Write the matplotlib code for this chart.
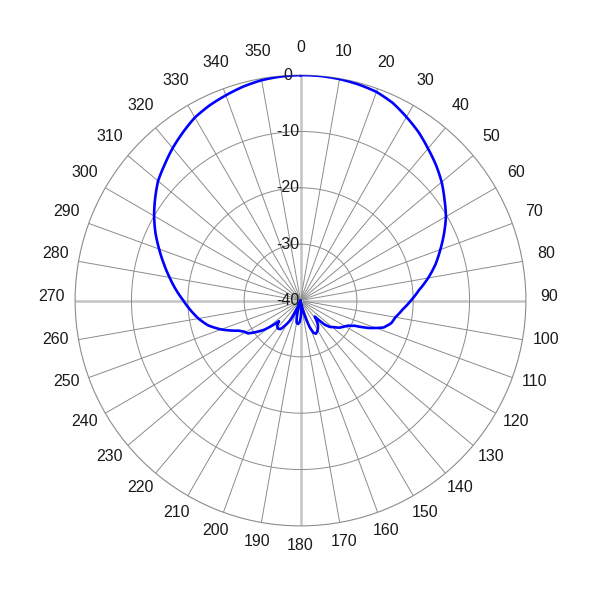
import numpy as np
import matplotlib
matplotlib.use("Agg")
import matplotlib.pyplot as plt
from matplotlib.transforms import offset_copy

plt.rcParams['font.family'] = ['Liberation Sans', 'DejaVu Sans']

angles_deg = [0, 5, 10, 15, 20, 25, 30, 35, 40, 45, 50, 55, 60, 65, 70, 75, 80, 85, 90,
              95, 100, 104, 108, 112, 115, 118, 121, 125, 129, 132, 135, 137, 138.5, 141,
              145, 150, 155, 158, 161, 164, 167, 170, 174, 178, 182, 186, 190, 194, 198,
              201, 204, 207, 210, 215, 219, 223, 226, 228, 231, 235, 238, 241, 244, 247,
              250, 255, 260, 265, 270, 275, 280, 285, 290, 295, 300, 305, 310, 315, 320,
              325, 330, 335, 340, 345, 350, 355, 360]
gain_db = [0.0, 0.0, -0.1, -0.3, -0.6, -1.3, -2.4, -3.5, -4.8, -6.0, -7.3, -8.8, -10.2,
           -11.9, -13.6, -15.2, -17.0, -18.9, -20.4, -21.8, -22.9, -23.4, -24.5, -27.0,
           -29.4, -30.5, -31.0, -31.6, -32.5, -33.0, -34.0, -35.4, -36.2, -35.5, -34.6,
           -33.9, -33.5, -33.8, -35.0, -37.0, -39.0, -40.0, -39.5, -37.5, -36.2, -35.8,
           -36.0, -37.5, -39.5, -40.0, -38.5, -36.2, -35.3, -33.8, -33.6, -33.9, -34.7,
           -33.6, -31.8, -30.2, -29.0, -28.6, -27.8, -26.4, -25.0, -23.0, -21.6, -20.4,
           -19.2, -17.8, -16.4, -14.9, -13.3, -11.6, -10.0, -8.5, -7.0, -5.9, -4.7,
           -3.6, -2.5, -1.8, -1.25, -0.7, -0.3, -0.1, 0.0]

angle_ticks = list(range(0, 360, 10))
radial_ticks = [-40, -30, -20, -10, 0]

fig = plt.figure(figsize=(6, 6), dpi=100)
ax = fig.add_axes([0.1252, 0.1235, 0.7513, 0.7513], projection='polar')
ax.set_theta_zero_location('N')
ax.set_theta_direction(-1)
ax.set_ylim(-40, 0)

ax.grid(False)
ax.set_xticks([])
ax.set_yticks([])
ax.spines['polar'].set_color('#8c8c8c')
ax.spines['polar'].set_linewidth(0.8)

# radial spokes
for a in angle_ticks:
    th = np.deg2rad(a)
    if a % 90 == 0:
        ax.plot([th, th], [-40, 0], color='#c4c4c4', lw=1.8, zorder=1)
    else:
        ax.plot([th, th], [-40, 0], color='#8c8c8c', lw=0.7, zorder=1)

# rings
circ = np.linspace(0, 2 * np.pi, 721)
for rv in radial_ticks[1:-1]:
    ax.plot(circ, np.full_like(circ, rv), color='#8c8c8c', lw=0.7, zorder=1)

# data curve (drawn with polar path interpolation so segments follow arcs)
ln, = ax.plot(np.deg2rad(angles_deg), gain_db, color='#0000ff', lw=1.9, zorder=3)
ln._path._interpolation_steps = 12
ln.set_solid_joinstyle('round')

# angle labels
lab_tr = offset_copy(ax.transData, fig=fig, x=0, y=4, units='dots')
r_lab = -40 + 40 * 249.0 / 225.4
for a in angle_ticks:
    ax.text(np.deg2rad(a), r_lab, str(a), transform=lab_tr, ha='center', va='center',
            fontsize=11.5, color='#1a1a1a', clip_on=False)

# radial labels
rl_tr = offset_copy(ax.transData, fig=fig, x=-13, y=0, units='dots')
for rv in radial_ticks:
    ax.text(0, rv, str(rv), transform=rl_tr, ha='center', va='center',
            fontsize=11.5, color='#1a1a1a', zorder=4)

fig.savefig('out.png', dpi=100, facecolor='white')
